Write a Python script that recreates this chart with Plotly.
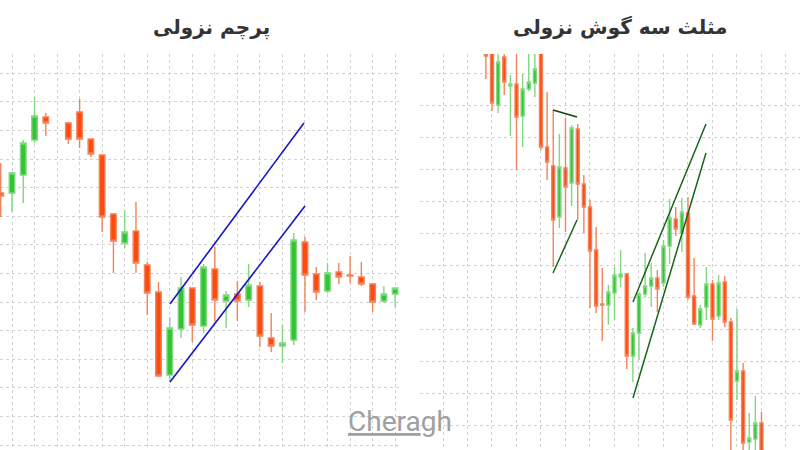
import plotly.graph_objects as go

# ---------------- Left chart: "پرچم نزولی" (bearish flag) ----------------
left_slot = [0, 1, 2, 3, 4, 6, 7, 8, 9, 10, 11, 12, 13, 14, 15, 16, 17, 18, 19, 20,
             21, 22, 23, 24, 25, 26, 27, 28, 29, 30, 31, 32, 33, 34, 35]
left_open = [307, 307, 325, 360, 383, 377, 388, 361, 345, 286, 257, 269, 235, 208, 125,
             171, 212, 174, 231, 199, 206, 200, 214, 162, 154, 160, 258, 226, 209, 228,
             225, 223, 216, 199, 206]
left_high = [337, 328, 360, 403, 387, 378, 401, 361, 345, 287, 290, 298, 238, 218, 183,
             223, 212, 236, 253, 209, 219, 236, 218, 187, 175, 267, 263, 233, 237, 237,
             244, 238, 216, 214, 212]
left_low = [283, 288, 297, 357, 364, 356, 352, 343, 268, 227, 252, 227, 185, 123, 118,
            162, 158, 167, 178, 172, 179, 193, 153, 148, 137, 155, 188, 200, 207, 216,
            217, 214, 188, 197, 193]
left_close = [304, 327, 357, 384, 377, 361, 361, 346, 283, 259, 268, 237, 207, 124, 172,
              212, 175, 233, 200, 205, 199, 215, 164, 154, 157, 260, 225, 208, 227, 223,
              224, 216, 198, 206, 212]

flag_upper_x = [15.02, 26.91]
flag_upper_y = [196, 377]
flag_lower_x = [15.02, 27.0]
flag_lower_y = [118, 294]

# ---------------- Right chart: "مثلث سه گوش نزولی" ----------------
right_slot = list(range(7, 53))
right_open = [446, 450, 395, 443, 414, 416, 384, 411, 417, 452, 353, 334, 283, 332, 317,
              371, 316, 293, 250, 196, 195, 207, 223, 226, 144, 167, 206, 214, 222, 217,
              254, 281, 267, 287, 204, 175, 193, 216, 184, 218, 178, 119, 129, 58, 61, 77]
right_high = [447, 452, 452, 448, 425, 452, 426, 452, 452, 455, 408, 390, 366, 382, 375,
              376, 325, 300, 273, 232, 215, 233, 250, 227, 172, 208, 247, 237, 230, 260,
              301, 293, 302, 303, 242, 195, 233, 220, 225, 224, 182, 191, 137, 87, 104, 88]
right_low = [421, 389, 387, 405, 364, 330, 353, 409, 403, 350, 320, 233, 272, 268, 294,
             280, 267, 192, 187, 159, 175, 180, 213, 131, 118, 140, 203, 193, 188, 213,
             236, 264, 248, 200, 175, 172, 180, 159, 180, 173, 40, 100, 40, 40, 40, 35]
right_close = [444, 397, 438, 418, 416, 383, 411, 418, 431, 353, 338, 280, 333, 313, 372,
               316, 293, 249, 194, 195, 208, 225, 226, 144, 167, 206, 214, 222, 211, 254,
               282, 271, 288, 203, 176, 191, 216, 181, 217, 178, 80, 129, 57, 62, 77, 40]

tri_top_x = [17.96, 21.88]
tri_top_y = [390, 383]
tri_low_x = [17.96, 21.88]
tri_low_y = [227, 280]
wedge_upper_x = [31.02, 42.94]
wedge_upper_y = [198, 376]
wedge_lower_x = [31.02, 42.94]
wedge_lower_y = [102, 347]

titles = ["پرچم نزولی", "مثلث سه گوش نزولی"]

RED = "#ff4a0e"
RED_WICK = "#f2845c"
GREEN = "#33c433"
GREEN_WICK = "#80d880"
GRID = "#d2d2d2"

fig = go.Figure()


def candles(x, o, h, l, c, xa, ya):
    return go.Candlestick(
        x=x, open=o, high=h, low=l, close=c, xaxis=xa, yaxis=ya,
        increasing=dict(line=dict(color=GREEN_WICK, width=1.4), fillcolor=GREEN),
        decreasing=dict(line=dict(color=RED_WICK, width=1.4), fillcolor=RED),
        whiskerwidth=0, hoverinfo="skip", showlegend=False,
    )


fig.add_trace(candles(left_slot, left_open, left_high, left_low, left_close, "x", "y"))
fig.add_trace(candles(right_slot, right_open, right_high, right_low, right_close, "x2", "y2"))

for xs, ys in [(flag_upper_x, flag_upper_y), (flag_lower_x, flag_lower_y)]:
    fig.add_trace(go.Scatter(x=xs, y=ys, mode="lines", xaxis="x", yaxis="y",
                             line=dict(color="#1717c4", width=1.6), hoverinfo="skip",
                             showlegend=False))

fig.add_trace(go.Scatter(x=tri_top_x, y=tri_top_y, mode="lines", xaxis="x2", yaxis="y2",
                         line=dict(color="#0f470f", width=1.6), hoverinfo="skip",
                         showlegend=False))
for xs, ys in [(tri_low_x, tri_low_y), (wedge_upper_x, wedge_upper_y),
               (wedge_lower_x, wedge_lower_y)]:
    fig.add_trace(go.Scatter(x=xs, y=ys, mode="lines", xaxis="x2", yaxis="y2",
                             line=dict(color="#17661a", width=1.5), hoverinfo="skip",
                             showlegend=False))

axis_common = dict(showgrid=True, griddash="dot", gridcolor=GRID, gridwidth=1,
                   showticklabels=False, zeroline=False, showline=False, ticks="")

y_dom = [0, (450 - 54) / 450]

fig.update_layout(
    width=800, height=450,
    margin=dict(l=0, r=0, t=0, b=0),
    paper_bgcolor="white", plot_bgcolor="white",
    showlegend=False, boxgap=0.3,
    xaxis=dict(domain=[0, 401 / 800], range=[-0.065, 35.52], tick0=1, dtick=2,
               rangeslider=dict(visible=False), **axis_common),
    yaxis=dict(domain=y_dom, range=[50, 446], tick0=55, dtick=28.6, **axis_common),
    xaxis2=dict(domain=[420 / 800, 1], range=[-3.755, 58.29], tick0=0, dtick=4,
                rangeslider=dict(visible=False), **axis_common),
    yaxis2=dict(domain=y_dom, range=[50, 446], tick0=427, dtick=32, anchor="x2",
                **axis_common),
)
fig.layout.xaxis2.anchor = "y2"

title_font = dict(family="DejaVu Sans", size=20, color="#333333", weight="bold")
fig.add_annotation(text=titles[0], xref="paper", yref="paper",
                   x=211 / 800, y=1 - 27 / 450, xanchor="center", yanchor="middle",
                   showarrow=False, font=title_font)
fig.add_annotation(text=titles[1], xref="paper", yref="paper",
                   x=620 / 800, y=1 - 27 / 450, xanchor="center", yanchor="middle",
                   showarrow=False, font=title_font)

fig.add_annotation(text="<u>Chera</u>gh", xref="paper", yref="paper",
                   x=400 / 800, y=1 - 421 / 450, xanchor="center", yanchor="middle",
                   showarrow=False,
                   font=dict(family="Roboto", size=28, color="#a0a0a0"))

fig.write_html("out.html", config={"displayModeBar": False},
               post_script="document.body.style.margin='0';")
